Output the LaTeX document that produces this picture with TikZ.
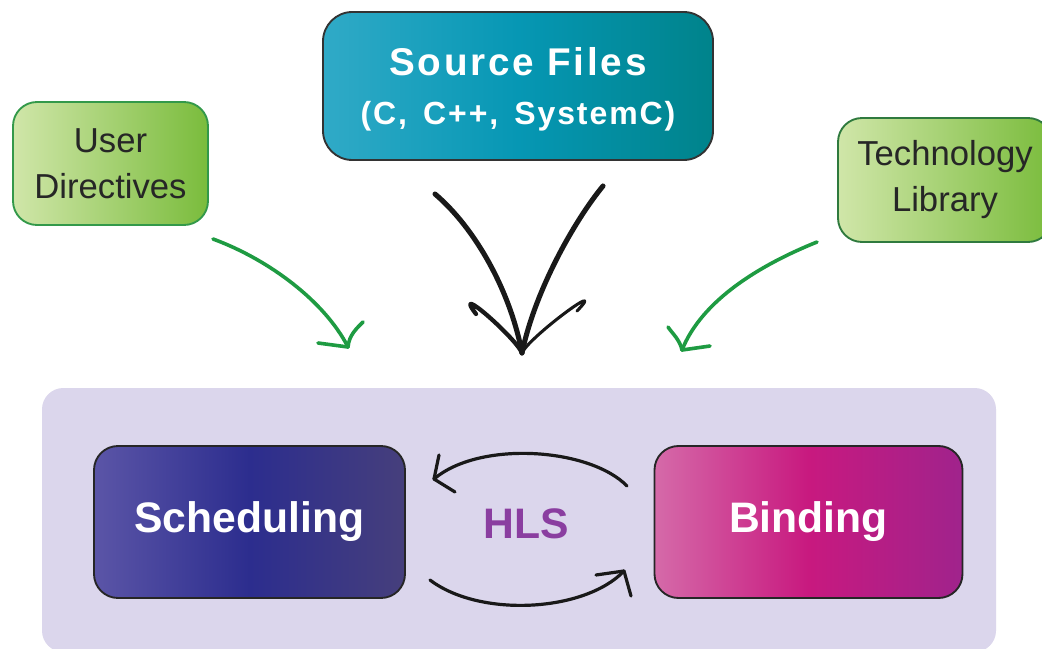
\documentclass[tikz,border=0pt]{standalone}
\usepackage{fontspec}
\setmainfont{Liberation Sans}
\newfontfamily\srcfont[LetterSpace=7]{Liberation Sans}
\newfontfamily\srcfontb[LetterSpace=6]{Liberation Sans}
\definecolor{glight}{HTML}{D0E6A9}
\definecolor{gdark}{HTML}{7ABC3C}
\definecolor{gborder}{HTML}{33994A}
\definecolor{gborderB}{HTML}{2F7A3E}
\definecolor{tealL}{HTML}{30AAC7}
\definecolor{tealM}{HTML}{0697B4}
\definecolor{tealR}{HTML}{00838B}
\definecolor{schL}{HTML}{5B55A7}
\definecolor{schM}{HTML}{2C2D8E}
\definecolor{schR}{HTML}{463F7C}
\definecolor{binL}{HTML}{D56AA9}
\definecolor{binM}{HTML}{C8197F}
\definecolor{binR}{HTML}{A0238C}
\definecolor{panelc}{HTML}{DBD6EC}
\definecolor{hlsc}{HTML}{8A3EA0}
\definecolor{arrg}{HTML}{1E9B42}
\definecolor{txtd}{HTML}{262626}
\usetikzlibrary{calc}
\tikzset{
  inbox/.style={draw=gborder, line width=1.4pt, rounded corners=18pt,
    left color=glight, right color=gdark, inner sep=0pt, align=center,
    text=txtd, font=\fontsize{26}{34.5}\selectfont},
  corebox/.style={draw=black!85, line width=1.4pt, rounded corners=18pt,
    inner sep=0pt, text=white, font=\bfseries\fontsize{32}{36}\selectfont},
  greenarrow/.style={draw=arrg, line width=2.7pt, line cap=round, line join=round},
  blackarrow/.style={draw=black!90, line width=3.8pt, line cap=round, line join=round},
  looparrow/.style={draw=black!90, line width=2.4pt, line cap=round, line join=round},
}
\begin{document}
\begin{tikzpicture}[x=0.75pt,y=-0.75pt]
\useasboundingbox (0,0) rectangle (1042,649);
\fill[white] (0,0) rectangle (1042,649);
% lavender panel
\node[fill=panelc, rounded corners=16pt, minimum width=715.5pt, minimum height=198pt, inner sep=0pt] (panel) at (519,520) {};
% input boxes
\node[inbox, minimum width=146.25pt, minimum height=92.25pt] (ud) at (110.5,163.5) {User\\Directives};
\node[inbox, draw=gborderB, minimum width=160.5pt, minimum height=93pt] (tech) at (945,180) {Technology\\Library};
\node[draw=black!80, line width=1.4pt, rounded corners=22pt, left color=tealL, right color=tealR, middle color=tealM,
  minimum width=292.5pt, minimum height=111pt, inner sep=0pt, text=white, align=center,
  font=\bfseries\fontsize{24}{37}\selectfont] (src) at (518,86) {};
\node[text=white, align=center, inner sep=0pt, font=\bfseries\fontsize{24}{37}\selectfont] (srctext) at (518,89)
  {{\srcfont\bfseries\fontsize{29}{37}\selectfont Source\hspace{0.35em}Files}\\
   {\srcfontb\bfseries (C,\hspace{0.5em}C++,\hspace{0.5em}SystemC)}};
% core boxes
\node[corebox, left color=schL, right color=schR, middle color=schM, minimum width=233.25pt, minimum height=114pt] (sched) at (249.5,522) {Scheduling};
\node[corebox, left color=binL, right color=binR, middle color=binM, minimum width=231pt, minimum height=114pt] (bind) at (808.5,522) {Binding};
\node[text=hlsc, font=\bfseries\fontsize{32}{36}\selectfont] (hls) at (526,524) {HLS};
% black merging arrow
\coordinate (bl) at (435,194);
\coordinate (br) at (603,186);
\coordinate (tipB) at (522,353);
\draw[blackarrow] (bl) .. controls (475,228) and (510,290) .. (tipB);
\draw[blackarrow] (br) .. controls (575,220) and (535,290) .. (tipB);
\draw[blackarrow, line width=3.2pt] (tipB) .. controls +(-6,-15) and +(-25,-33) .. +(-46,-39);
\draw[blackarrow, line width=2.3pt] (tipB) .. controls +(6,-15) and +(33,-34) .. +(55,-42);
% green arrows
\coordinate (gl0) at (213,239);
\coordinate (gl) at (348,347);
\draw[greenarrow] (gl0) .. controls (270,260) and (325,302) .. (gl);
\draw[greenarrow] (gl) -- +(-30,-4);
\draw[greenarrow] (gl) .. controls +(1,-12) and +(-6,6) .. +(15,-25);
\coordinate (gr0) at (817,242);
\coordinate (gr) at (682,350);
\draw[greenarrow] (gr0) .. controls (760,265) and (702,300) .. (gr);
\draw[greenarrow] (gr) -- +(28,-4);
\draw[greenarrow] (gr) .. controls +(-2,-10) and +(4,6) .. +(-14,-23);
% HLS loop arrows
\coordinate (t0) at (627,486);
\coordinate (t1) at (434,479);
\draw[looparrow] (t0) .. controls (590,448) and (480,440) .. (t1);
\draw[looparrow] (t1) -- +(5,-24);
\draw[looparrow] (t1) -- +(21,13);
\coordinate (b0) at (430,580);
\coordinate (b1) at (624,571);
\draw[looparrow] (b0) .. controls (480,618) and (585,612) .. (b1);
\draw[looparrow] (b1) -- +(-28,4);
\draw[looparrow] (b1) -- +(7,25);
\end{tikzpicture}
\end{document}
